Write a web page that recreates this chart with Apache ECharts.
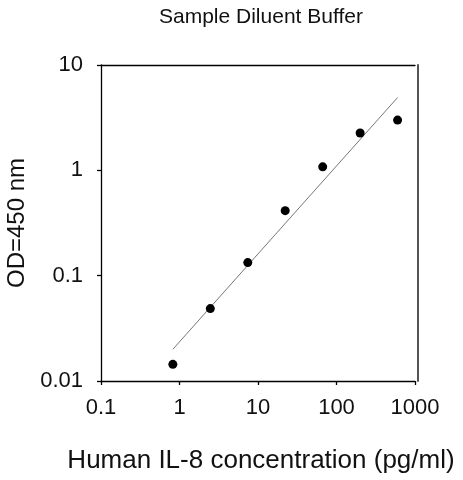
<!DOCTYPE html>
<html>
<head>
<meta charset="utf-8">
<script src="https://cdn.jsdelivr.net/npm/echarts@6/dist/echarts.min.js"></script>
<style>
html,body{margin:0;padding:0;background:#fff;}
#c{width:463px;height:480px;}
</style>
</head>
<body>
<div id="c"></div>
<script>
const titleText = 'Sample Diluent Buffer';
const xName = 'Human IL-8 concentration (pg/ml)';
const yName = 'OD=450 nm';
const concentration = [0.823, 2.47, 7.41, 22.2, 66.7, 200, 600];
const od = [0.0144, 0.0487, 0.133, 0.414, 1.08, 2.26, 3.0];
const fitX = [0.823, 600];
const fitY = [0.02, 4.91];
const xTickLabels = ['0.1', '1', '10', '100', '1000'];
const yTickLabels = ['0.01', '0.1', '1', '10'];

const FONT = '"Liberation Sans", Arial, sans-serif';
const chart = echarts.init(document.getElementById('c'), null, {renderer: 'canvas'});

const labelIdx = (arr, min) => (v) => {
  const i = Math.round(Math.log10(v) - Math.log10(min));
  return arr[i] !== undefined ? arr[i] : '';
};

chart.setOption({
  animation: false,
  backgroundColor: '#fff',
  title: {
    text: titleText,
    left: 154,
    top: 2,
    textStyle: {fontFamily: FONT, fontSize: 21, fontWeight: 'normal', color: '#111'}
  },
  grid: {left: 101, right: 48, top: 65, bottom: 99, containLabel: false, outerBoundsMode: 'none'},
  xAxis: [{
    type: 'log', logBase: 10, min: 0.1, max: 1000,
    name: xName, nameLocation: 'middle', nameGap: 67,
    nameTextStyle: {fontFamily: FONT, fontSize: 26, color: '#111', padding: [0, 0, 0, 6]},
    axisLine: {show: true, lineStyle: {color: '#000', width: 1.3}},
    axisTick: {show: true, inside: false, length: 4, lineStyle: {color: '#000', width: 1.3}},
    minorTick: {show: false},
    splitLine: {show: false},
    axisLabel: {fontFamily: FONT, fontSize: 22, color: '#111', margin: 16,
      formatter: labelIdx(xTickLabels, 0.1)}
  }, {
    type: 'log', logBase: 10, min: 0.1, max: 1000, position: 'top',
    axisLine: {show: true, lineStyle: {color: '#000', width: 1.3}},
    axisTick: {show: false}, axisLabel: {show: false}, splitLine: {show: false}
  }],
  yAxis: [{
    type: 'log', logBase: 10, min: 0.01, max: 10,
    name: yName, nameLocation: 'middle', nameGap: 70, nameRotate: 90,
    nameTextStyle: {fontFamily: FONT, fontSize: 24, color: '#111'},
    axisLine: {show: true, lineStyle: {color: '#000', width: 1.3}},
    axisTick: {show: true, inside: false, length: 4, lineStyle: {color: '#000', width: 1.3}},
    splitLine: {show: false},
    axisLabel: {fontFamily: FONT, fontSize: 22, color: '#111', margin: 18,
      formatter: labelIdx(yTickLabels, 0.01)}
  }, {
    type: 'log', logBase: 10, min: 0.01, max: 10, position: 'right', offset: 3,
    axisLine: {show: true, lineStyle: {color: '#555', width: 2}},
    axisTick: {show: false}, axisLabel: {show: false}, splitLine: {show: false}
  }],
  series: [{
    type: 'line',
    data: fitX.map((x, i) => [x, fitY[i]]),
    showSymbol: false,
    symbol: 'none',
    lineStyle: {color: '#777', width: 1},
    z: 1
  }, {
    type: 'scatter',
    data: concentration.map((x, i) => [x, od[i]]),
    symbol: 'circle',
    symbolSize: 9,
    itemStyle: {color: '#000', opacity: 1},
    z: 2
  }]
});
</script>
</body>
</html>
